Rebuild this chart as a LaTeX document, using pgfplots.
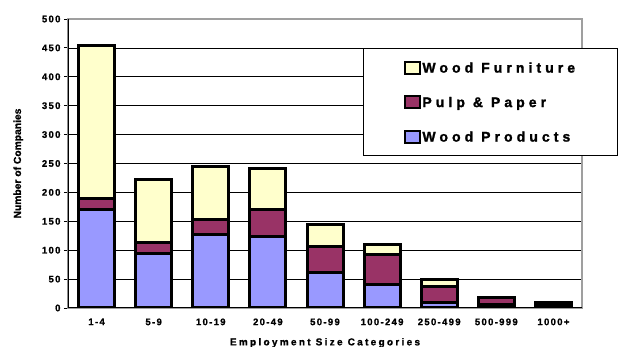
\documentclass[border=0pt]{standalone}
\usepackage{fontspec}
\setmainfont{Liberation Sans}
\newfontfamily\tickfont{LiberationSans-Bold.ttf}[LetterSpace=14, FakeBold=1.2]
\newfontfamily\xlabfont{LiberationSans-Bold.ttf}[LetterSpace=23, FakeBold=1.2]
\newfontfamily\legfont{LiberationSans-Bold.ttf}[LetterSpace=29, FakeBold=1.5]
\newfontfamily\ylabfont{LiberationSans-Bold.ttf}[FakeBold=1]
\usepackage{pgfplots}
\pgfplotsset{compat=1.18}
\definecolor{wf}{HTML}{FFFFCC}
\definecolor{pp}{HTML}{993366}
\definecolor{wp}{HTML}{9999FF}
\begin{document}
\begin{tikzpicture}
\useasboundingbox (-68pt,-39pt) rectangle (555pt,308pt);
\begin{axis}[
  at={(0,0)}, anchor=south west,
  scale only axis, width=514pt, height=289pt,
  ybar stacked, bar width=36pt,
  xmin=-0.5, xmax=8.5, ymin=0, ymax=500,
  xtick={0,...,8},
  xticklabels={1-4,5-9,10-19,20-49,50-99,100-249,250-499,500-999,1000+},
  x tick style={draw=none},
  minor xtick={-0.5,0.5,...,8.5},
  minor x tick style={black, line width=0.8pt},
  minor tick length=4pt,
  ytick={0,50,...,500},
  y tick style={black, line width=0.8pt},
  major tick length=4pt,
  tick align=outside, tick pos=left,
  ymajorgrids, major grid style={black, line width=0.7pt},
  axis line style={draw=gray!75, line width=1.6pt},
  /pgf/number format/assume math mode=true,
  tick label style={font=\tickfont\fontsize{9.5}{11}\selectfont},
  xticklabel style={yshift=-3pt},
  xlabel={\xlabfont\fontsize{10}{12}\selectfont Employment Size Categories},
  ylabel={\ylabfont\fontsize{10.3}{12}\selectfont Number of Companies},
  xlabel style={yshift=-6pt},
  ylabel style={yshift=12pt},
  legend style={at={(0.574,0.526)}, anchor=south west, draw=black, line width=0.8pt,
    inner xsep=41pt, inner ysep=12pt, row sep=20.5pt,
    font=\legfont\fontsize{14}{16}\selectfont,
    nodes={inner sep=1pt, text height=10pt, text depth=0pt}},
  legend cell align=left,
  legend image code/.code={\draw[#1, draw=black, line width=2pt] (0pt,-6pt) rectangle (15pt,6pt);},
  reverse legend,
]
\addplot[fill=wp, draw=black, line width=3pt] coordinates {(0,171) (1,94) (2,128) (3,124) (4,62) (5,41) (6,9) (7,6) (8,3)};
\addplot[fill=pp, draw=black, line width=3pt] coordinates {(0,19) (1,20) (2,25) (3,46) (4,44) (5,51) (6,29) (7,12) (8,4)};
\addplot[fill=wf, draw=black, line width=3pt] coordinates {(0,265) (1,108) (2,92) (3,72) (4,38) (5,18) (6,12) (7,0.5) (8,2)};
\legend{Wood Products, Pulp \& Paper, Wood Furniture}
\draw[black, line width=1.6pt] (rel axis cs:0,0) -- (rel axis cs:0,1);
\draw[black, line width=1.6pt] (rel axis cs:0,0) -- (rel axis cs:1,0);
\end{axis}
\end{tikzpicture}
\end{document}
